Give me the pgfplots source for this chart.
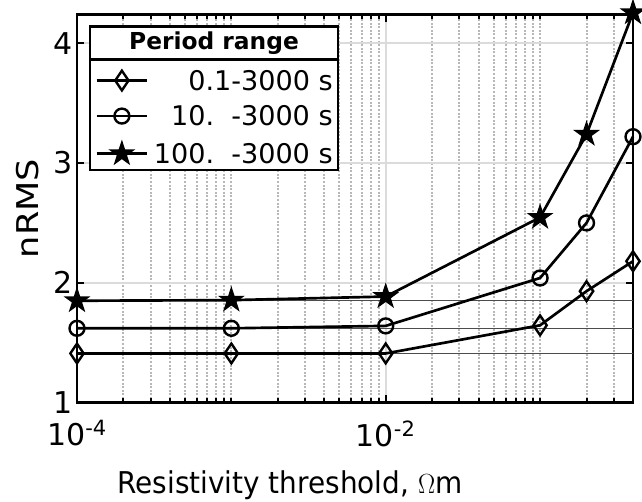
\documentclass[border=0pt]{standalone}
\usepackage{fontspec}
\setmainfont{DejaVu Sans}
\usepackage{pgfplots}
\pgfplotsset{compat=1.18}
\usetikzlibrary{plotmarks}

\pgfdeclareplotmark{fstar}{%
 \pgfpathmoveto{\pgfpointpolar{90}{\pgfplotmarksize}}%
 \pgfpathlineto{\pgfpointpolar{126}{0.382\pgfplotmarksize}}%
 \pgfpathlineto{\pgfpointpolar{162}{\pgfplotmarksize}}%
 \pgfpathlineto{\pgfpointpolar{198}{0.382\pgfplotmarksize}}%
 \pgfpathlineto{\pgfpointpolar{234}{\pgfplotmarksize}}%
 \pgfpathlineto{\pgfpointpolar{270}{0.382\pgfplotmarksize}}%
 \pgfpathlineto{\pgfpointpolar{306}{\pgfplotmarksize}}%
 \pgfpathlineto{\pgfpointpolar{342}{0.382\pgfplotmarksize}}%
 \pgfpathlineto{\pgfpointpolar{18}{\pgfplotmarksize}}%
 \pgfpathlineto{\pgfpointpolar{54}{0.382\pgfplotmarksize}}%
 \pgfpathclose
 \pgfusepathqfillstroke
}

\newcommand{\fs}{\fontsize{20.3}{24}\selectfont}
\newcommand{\ft}{\fontsize{22.5}{27}\selectfont}

\begin{document}
\begin{tikzpicture}
\begin{axis}[
  at={(0,0)}, anchor=south west,
  scale only axis, width=417pt, height=291pt,
  xmode=log, xmin=1e-4, xmax=0.4, ymin=1, ymax=4.24,
  clip=false,
  xtick={1e-4,1e-2},
  xticklabels={10\textsuperscript{-4},10\textsuperscript{-2}},
  minor xtick={2e-4,3e-4,4e-4,5e-4,6e-4,7e-4,8e-4,9e-4,1e-3,2e-3,3e-3,4e-3,5e-3,6e-3,7e-3,8e-3,9e-3,2e-2,3e-2,4e-2,5e-2,6e-2,7e-2,8e-2,9e-2,1e-1,2e-1,3e-1},
  ytick={1,2,3,4},
  /pgf/number format/assume math mode=true,
  tick label style={font=\ft},
  xticklabel style={yshift=-10pt},
  label style={font=\ft},
  xlabel={Resistivity threshold, $\Omega$m},
  ylabel={nRMS},
  xlabel style={at={(axis description cs:0.383,-0.2345)}, anchor=base, xscale=0.93},
  ylabel style={at={(axis description cs:-0.070,0.5)}, anchor=base, xscale=1.17},
  grid=both,
  major grid style={draw=black!14, line width=1.5pt},
  minor grid style={draw=black!28, line width=1.5pt, dash pattern=on 1.5pt off 1.2pt},
  tick align=inside,
  major tick length=5.5pt, minor tick length=3.5pt,
  every tick/.style={black, line width=1.5pt},
  axis line style={line width=1.8pt},
  legend image code/.code={\draw[mark repeat=2,mark phase=2] plot coordinates {(0pt,0pt)(19pt,0pt)(38pt,0pt)};},
  legend cell align=right,
  legend style={at={(rel axis cs:0.4604,0.856)}, anchor=north east, draw=none, fill=none,
    font=\fs, inner sep=0pt, row sep=12pt, column sep=4pt,
    nodes={inner sep=0pt, text height=14.5pt, text depth=0pt}},
]
% reference lines
\addplot[forget plot, draw=black!70, line width=0.8pt] coordinates {(1e-4,1.41) (0.4,1.41)};
\addplot[forget plot, draw=black!70, line width=0.8pt] coordinates {(1e-4,1.62) (0.4,1.62)};
\addplot[forget plot, draw=black!70, line width=0.8pt] coordinates {(1e-4,1.85) (0.4,1.85)};
% legend box
\draw[fill=white, line width=1.8pt] (rel axis cs:0.02338,0.5995) rectangle (rel axis cs:0.4694,0.9690);
\draw[line width=1.8pt] (rel axis cs:0.02338,0.8837) -- (rel axis cs:0.4694,0.8837);
\node[font=\fontsize{17.5}{21}\selectfont\bfseries] at (rel axis cs:0.2464,0.9264) {Period range};
% data
\addplot[black, line width=2pt, mark=diamond, mark size=7.4pt, mark options={solid, xscale=0.9, line width=1.8pt}]
 coordinates {(1e-4,1.41) (1e-3,1.41) (1e-2,1.41) (0.1,1.645) (0.2,1.93) (0.4,2.18)};
\addlegendentry{0.1-3000 s}
\addplot[black, line width=2pt, mark=o, mark size=5.6pt, mark options={solid, line width=1.8pt}]
 coordinates {(1e-4,1.62) (1e-3,1.62) (1e-2,1.64) (0.1,2.04) (0.2,2.50) (0.4,3.22)};
\addlegendentry{10.\ \ -3000 s}
\addplot[black, line width=2pt, mark=fstar, mark size=9pt, mark options={solid, fill=black, line width=1pt}]
 coordinates {(1e-4,1.85) (1e-3,1.855) (1e-2,1.885) (0.1,2.546) (0.2,3.24) (0.4,4.255)};
\addlegendentry{100.\ \ -3000 s}
\end{axis}
\pgfresetboundingbox
\path[use as bounding box] (-57.75pt,-73.9pt) rectangle (423.75pt,301.9pt);
\end{tikzpicture}
\end{document}
